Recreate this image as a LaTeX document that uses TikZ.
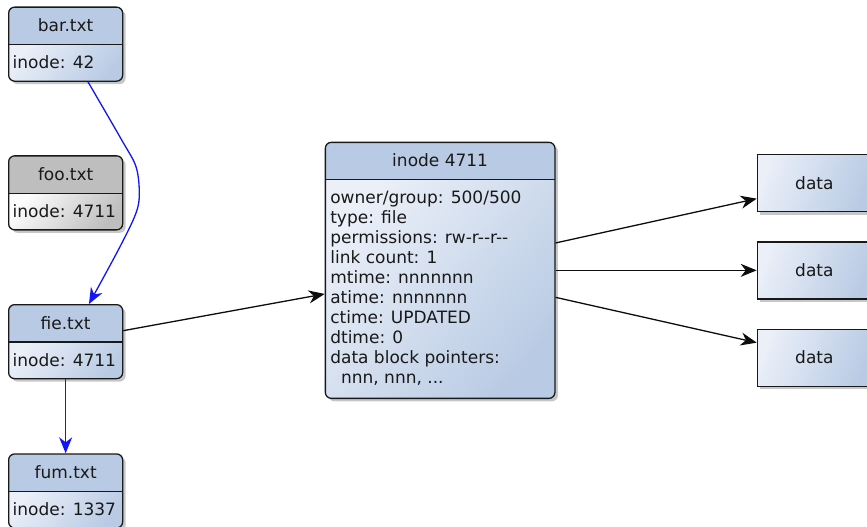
\documentclass[tikz,border=0pt]{standalone}
\usepackage{fontspec}
\setmainfont{DejaVu Sans}
\usetikzlibrary{arrows.meta,shadows}
\definecolor{hdrblue}{RGB}{185,203,228}
\definecolor{lightblue}{RGB}{234,239,248}
\definecolor{hdrgray}{RGB}{190,190,190}
\definecolor{lightgrey2}{RGB}{252,252,252}
\definecolor{darkgrey2}{RGB}{190,190,190}
\definecolor{edgecol}{RGB}{25,25,25}
\definecolor{linkblue}{RGB}{20,20,245}
\tikzset{
  every node/.style={font=\fontsize{17}{20}\selectfont, text=black!90},
  softshadow/.style={drop shadow={shadow xshift=3pt, shadow yshift=-3pt, opacity=0.22, fill=black}},
  splitbox/.style n args={3}{draw=edgecol, line width=1.3pt, rounded corners=6pt, inner sep=0pt, softshadow,
    path picture={
      \fill[#1, sharp corners] (path picture bounding box.north west) rectangle ([yshift=-37.3pt]path picture bounding box.north east);
      \shade[sharp corners, top color=#2, bottom color=#3, shading angle=50] ([yshift=-37.3pt]path picture bounding box.north west) rectangle (path picture bounding box.south east);
      \draw[edgecol, line width=1.3pt, sharp corners] ([yshift=-37.3pt]path picture bounding box.north west) -- ([yshift=-37.3pt]path picture bounding box.north east);
    }},
  fsize/.style={minimum width=114pt, minimum height=74pt},
  ftitle/.style={anchor=base, inner sep=0pt},
  fbody/.style={anchor=base west, inner sep=0pt},
  datablock/.style={draw=edgecol, line width=1.3pt, inner sep=0pt, minimum width=114pt, minimum height=57pt,
    top color=lightblue, bottom color=hdrblue, shading angle=70, softshadow},
  blk/.style={draw=black!95, line width=1.3pt, -{Stealth[length=16pt, width=13pt, inset=5pt]}},
  blu/.style={draw=linkblue, line width=1.3pt, -{Stealth[length=16pt, width=13pt, inset=5pt]}},
}
\begin{document}
\begin{tikzpicture}[x=1pt, y=-1pt]
\useasboundingbox (0,0) rectangle (867,527);
\clip (0,0) rectangle (867,527);

% file entries
\node[splitbox={hdrblue}{lightblue}{hdrblue}, fsize, anchor=north west] (bar) at (8,6.5) {};
\node[ftitle] (bar-title) at ([yshift=-25.3pt]bar.north) {bar.txt};
\node[fbody] (bar-inode) at ([xshift=4.5pt,yshift=-62pt]bar.north west) {inode: 42};

\node[splitbox={hdrgray}{lightgrey2}{darkgrey2}, fsize, anchor=north west] (foo) at (8,155.2) {};
\node[ftitle] (foo-title) at ([yshift=-25.3pt]foo.north) {foo.txt};
\node[fbody] (foo-inode) at ([xshift=4.5pt,yshift=-62pt]foo.north west) {inode: 4711};

\node[splitbox={hdrblue}{lightblue}{hdrblue}, fsize, anchor=north west] (fie) at (8,304) {};
\node[ftitle] (fie-title) at ([yshift=-25.3pt]fie.north) {fie.txt};
\node[fbody] (fie-inode) at ([xshift=4.5pt,yshift=-62pt]fie.north west) {inode: 4711};

\node[splitbox={hdrblue}{lightblue}{hdrblue}, fsize, anchor=north west] (fum) at (8,453.3) {};
\node[ftitle] (fum-title) at ([yshift=-25.3pt]fum.north) {fum.txt};
\node[fbody] (fum-inode) at ([xshift=4.5pt,yshift=-62pt]fum.north west) {inode: 1337};

% inode
\node[splitbox={hdrblue}{lightblue}{hdrblue}, minimum width=229.6pt, minimum height=256pt, anchor=north west] (inode) at (324.7,141.7) {};
\node[ftitle] (inode-title) at ([yshift=-25pt]inode.north) {inode 4711};
\node[anchor=north west, inner sep=0pt, align=left] (inode-fields) at ([xshift=5.4pt,yshift=-48.6pt]inode.north west)
  {\rule{0pt}{13pt}owner/group: 500/500\\
   type: file\\
   permissions: rw-r{-}{-}r{-}{-}\\
   link count: 1\\
   mtime: nnnnnnn\\
   atime: nnnnnnn\\
   ctime: UPDATED\\
   dtime: 0\\
   data block pointers:\\
   \ \ nnn, nnn, ...};

% data blocks
\node[datablock, anchor=north west] (d1) at (756.7,154) {data};
\node[datablock, anchor=north west] (d2) at (756.7,241.2) {data};
\node[datablock, anchor=north west] (d3) at (756.7,328.5) {data};

% connectors
\coordinate (c1) at ([xshift=22.3pt]bar.south);
\coordinate (c2) at ([xshift=23.3pt]fie.north);
\draw[blu] plot[smooth, tension=0.55] coordinates {(c1) (121.7,140) (136,166.7) (139.3,193.3) (136,213) (120,246.7) (c2)};
\draw[blu] (fie.south) -- (fum.north);
\draw[blk] ([yshift=11pt]fie.east) -- ([yshift=-23.6pt]inode.west);
\draw[blk] ([yshift=27.4pt]inode.east) -- ([yshift=-15.5pt]d1.west);
\draw[blk] (inode.east) -- (d2.west);
\draw[blk] ([yshift=-27pt]inode.east) -- ([yshift=15pt]d3.west);
\end{tikzpicture}
\end{document}
